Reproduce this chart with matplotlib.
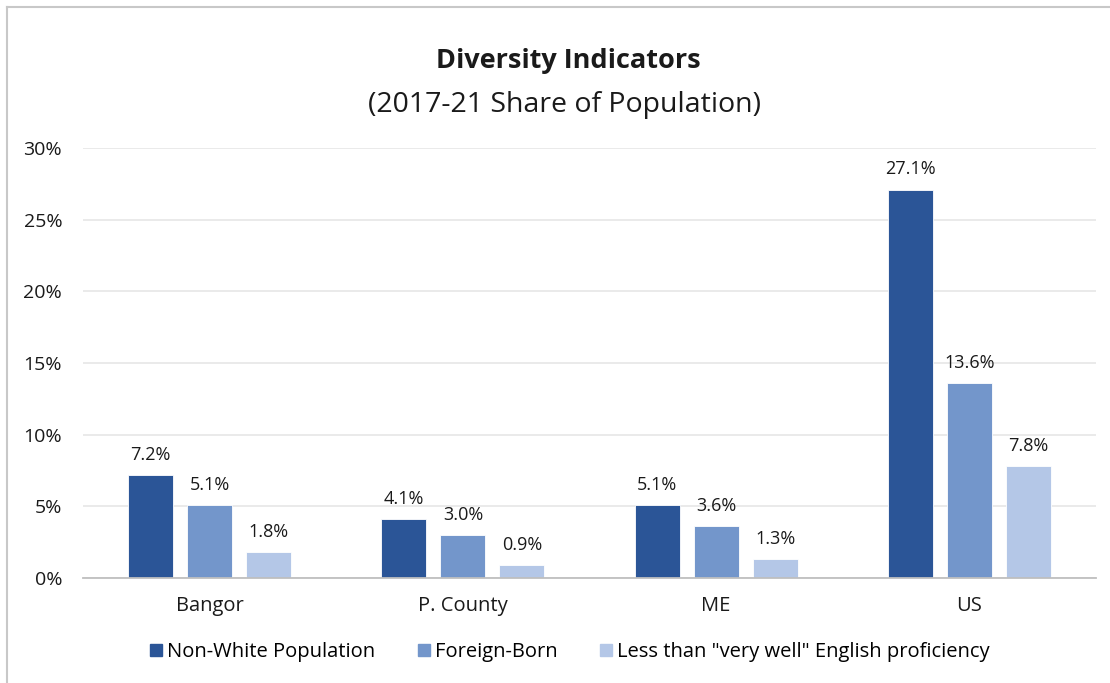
import matplotlib
matplotlib.use("Agg")
import matplotlib.pyplot as plt
import numpy as np
from matplotlib.lines import Line2D

categories = ["Bangor", "P. County", "ME", "US"]
series_names = ["Non-White Population", "Foreign-Born", 'Less than "very well" English proficiency']
non_white = [7.2, 4.1, 5.1, 27.1]
foreign_born = [5.1, 3.0, 3.6, 13.6]
english = [1.8, 0.9, 1.3, 7.8]
colors = ["#2B5597", "#7396CB", "#B4C7E7"]
yticks = [0, 5, 10, 15, 20, 25, 30]

plt.rcParams['font.family'] = ['Open Sans', 'DejaVu Sans']

W, H = 1110, 683
fig = plt.figure(figsize=(W / 100, H / 100), dpi=100)
ax = fig.add_axes([83 / W, 1 - 578 / H, (1096 - 83) / W, (578 - 148) / H])

x = np.arange(len(categories))
width = 0.178
step = 0.233
for i, vals in enumerate([non_white, foreign_born, english]):
    pos = x + (i - 1) * step
    ax.bar(pos, vals, width=width, color=colors[i], edgecolor="white", linewidth=0.6, zorder=3)
    for p, v in zip(pos, vals):
        ax.annotate(f"{v:.1f}%", (p, v), xytext=(0, 8), textcoords="offset points",
                    ha="center", va="bottom", fontsize=13, color="#1a1a1a")

ax.set_xlim(-0.5, len(categories) - 0.5)
ax.set_ylim(0, 30)
ax.set_yticks(yticks)
ax.set_yticklabels([f"{t}%" for t in yticks], fontsize=14, color="#1a1a1a")
ax.set_xticks(x)
ax.set_xticklabels(categories, fontsize=14.5, color="#1a1a1a")
ax.tick_params(axis="both", length=0)
ax.tick_params(axis="y", pad=15)
ax.tick_params(axis="x", pad=13)
ax.grid(axis="y", color="#E6E6E6", linewidth=1.2, zorder=0)
for s in ["top", "right", "left"]:
    ax.spines[s].set_visible(False)
ax.spines["bottom"].set_color("#BFBFBF")
ax.spines["bottom"].set_linewidth(1.3)
ax.spines["bottom"].set_zorder(4)

fig.text(568 / W, 1 - 61 / H, "Diversity Indicators", ha="center", va="center",
         fontsize=19.5, fontweight="bold", color="#1a1a1a")
fig.text(564 / W, 1 - 105 / H, "(2017-21 Share of Population)", ha="center", va="center",
         fontsize=20.5, color="#1a1a1a")

handles = [Line2D([0], [0], marker="s", linestyle="none", markersize=9,
                  markerfacecolor=c, markeredgecolor=c) for c in colors]
fig.legend(handles, series_names, loc="center", bbox_to_anchor=(568 / W, 1 - 652 / H),
           ncol=3, frameon=False, fontsize=14.5, handletextpad=0.05, columnspacing=1.9,
           handlelength=1.0)

# border lines (top and left)
fig.add_artist(Line2D([7 / W, 1], [1 - 7 / H, 1 - 7 / H], transform=fig.transFigure,
                      color="#C8C8C8", linewidth=1.5))
fig.add_artist(Line2D([7 / W, 7 / W], [0, 1 - 7 / H], transform=fig.transFigure,
                      color="#C8C8C8", linewidth=1.5))

fig.savefig("out.png", dpi=100)
